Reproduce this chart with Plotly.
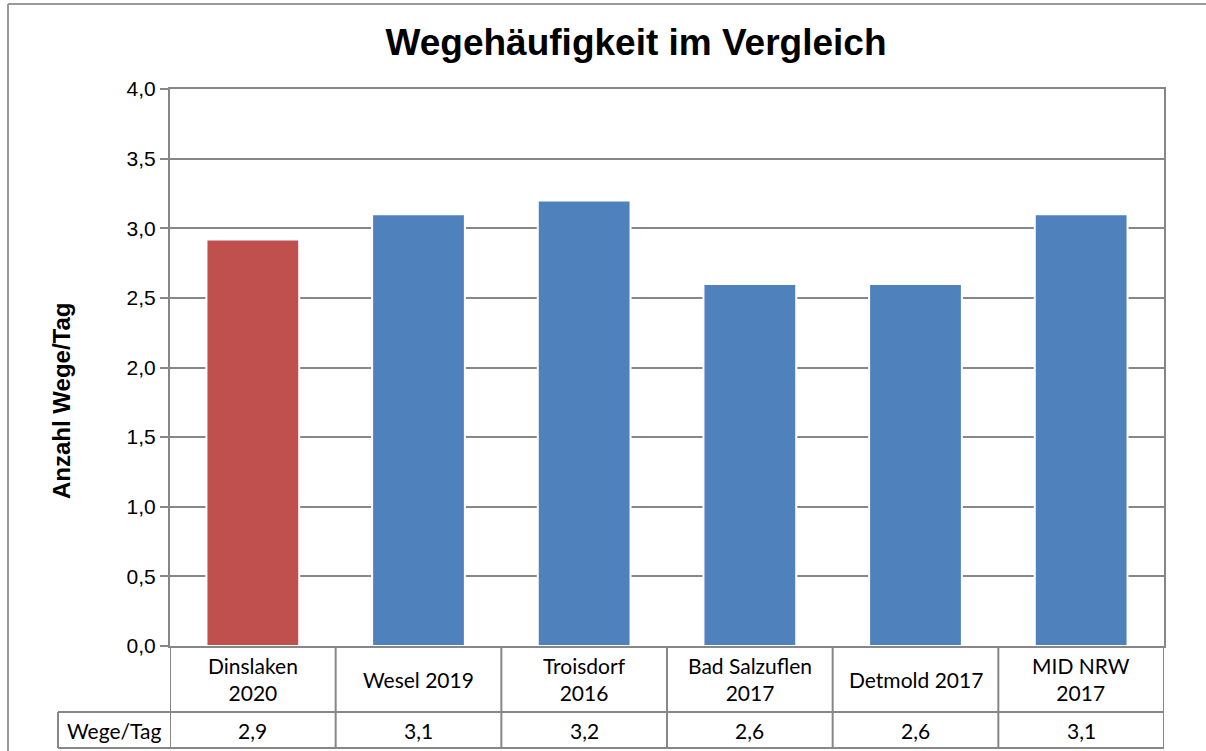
import plotly.graph_objects as go

# Data
categories = ["Dinslaken<br>2020", "Wesel 2019", "Troisdorf<br>2016",
              "Bad Salzuflen<br>2017", "Detmold 2017", "MID NRW<br>2017"]
wege_pro_tag = [2.92, 3.1, 3.2, 2.6, 2.6, 3.1]
bar_colors = ["#C0504D", "#4F81BD", "#4F81BD", "#4F81BD", "#4F81BD", "#4F81BD"]
row_label = "Wege/Tag"
y_ticks = [0, 0.5, 1.0, 1.5, 2.0, 2.5, 3.0, 3.5, 4.0]

W, H = 1206, 751
L, R, T, B = 170, 42, 89, 105
plot_w = W - L - R
plot_h = H - T - B

def py(pix):
    """pixel row -> paper y"""
    return (H - B - pix) / plot_h

def px(pix):
    """pixel column -> paper x"""
    return (pix - L) / plot_w

grid_col = "#878787"
arial = "Liberation Sans, Arial, sans-serif"
table_font = dict(family="Lato, Open Sans, sans-serif", size=21, color="#000000")

x_idx = list(range(len(categories)))

fig = go.Figure()
fig.add_trace(go.Bar(
    x=x_idx, y=wege_pro_tag, width=0.56,
    marker=dict(color=bar_colors, line=dict(color="white", width=2)),
    showlegend=False, hoverinfo="y",
))

shapes = []
row1 = py(712)
row2 = py(748)
hdr_left = px(58)

# table grid: vertical separators between categories
for i in range(len(categories) + 1):
    shapes.append(dict(type="line", xref="x", yref="paper",
                       x0=i - 0.5, x1=i - 0.5, y0=0, y1=row2,
                       line=dict(color=grid_col, width=2)))
# horizontal lines of the table
for yy in (row1, row2):
    shapes.append(dict(type="line", xref="paper", yref="paper",
                       x0=hdr_left, x1=1, y0=yy, y1=yy,
                       line=dict(color=grid_col, width=2)))
shapes.append(dict(type="line", xref="paper", yref="paper",
                   x0=hdr_left, x1=hdr_left, y0=row1, y1=row2,
                   line=dict(color=grid_col, width=2)))
# outer chart frame (top and left edges)
shapes.append(dict(type="line", xref="paper", yref="paper",
                   x0=px(8), x1=px(W), y0=py(4), y1=py(4),
                   line=dict(color="#9a9a9a", width=2)))
shapes.append(dict(type="line", xref="paper", yref="paper",
                   x0=px(8), x1=px(8), y0=py(4), y1=py(H),
                   line=dict(color="#9a9a9a", width=2)))

annotations = []
for i, (cat, v) in enumerate(zip(categories, wege_pro_tag)):
    annotations.append(dict(xref="x", yref="paper", x=i, y=py(679),
                            text=cat, showarrow=False, font=table_font,
                            align="center", xanchor="center", yanchor="middle"))
    annotations.append(dict(xref="x", yref="paper", x=i, y=py(730),
                            text=f"{v:.1f}".replace(".", ","), showarrow=False,
                            font=table_font, xanchor="center", yanchor="middle"))
annotations.append(dict(xref="paper", yref="paper", x=px(114), y=py(730),
                        text=row_label, showarrow=False, font=table_font,
                        xanchor="center", yanchor="middle"))
annotations.append(dict(xref="paper", yref="paper", x=px(61), y=py(401),
                        text="<b>Anzahl Wege/Tag</b>", textangle=-90, showarrow=False,
                        font=dict(family=arial, size=24, color="#000000"),
                        xanchor="center", yanchor="middle"))

fig.update_layout(
    width=W, height=H,
    margin=dict(l=L, r=R, t=T, b=B),
    paper_bgcolor="white", plot_bgcolor="white",
    separators=",.",
    title=dict(text="<b>Wegehäufigkeit im Vergleich</b>", xref="container",
               x=636 / W, xanchor="center",
               y=1 - 42 / H, yanchor="middle",
               font=dict(family=arial, size=37, color="#000000")),
    bargap=0.44,
    shapes=shapes,
    annotations=annotations,
    xaxis=dict(range=[-0.5, len(categories) - 0.5], showticklabels=False,
               showgrid=False, zeroline=False, showline=True, mirror=True,
               linecolor=grid_col, linewidth=2, ticks=""),
    yaxis=dict(range=[0, 4.0], tickvals=y_ticks, tickformat=".1f",
               showgrid=True, gridcolor=grid_col, gridwidth=2,
               zeroline=False, showline=True, mirror=True,
               linecolor=grid_col, linewidth=2,
               ticks="outside", ticklen=8, tickcolor=grid_col, tickwidth=2,
               tickfont=dict(family=arial, size=21, color="#000000")),
)

fig.write_html("out.html")
